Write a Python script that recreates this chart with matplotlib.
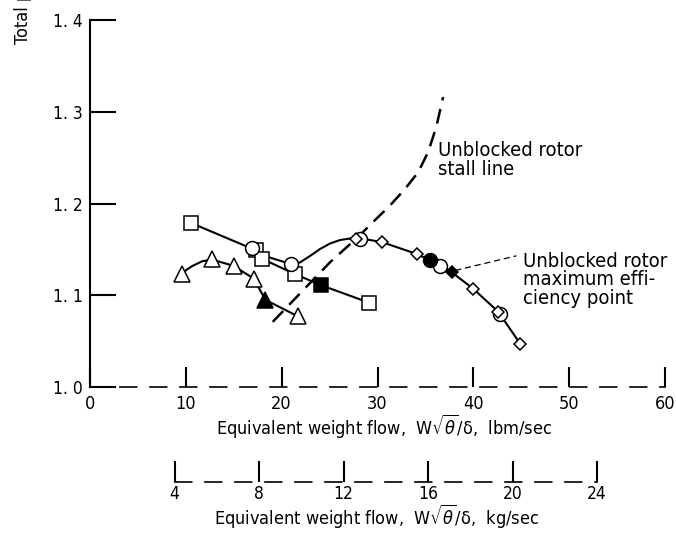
import matplotlib
matplotlib.use("Agg")
import matplotlib.pyplot as plt

plt.rcParams["font.family"] = ["DejaVu Sans"]
plt.rcParams["font.stretch"] = "condensed"
plt.rcParams["mathtext.fontset"] = "dejavusans"

LBM_PER_KG = 2.2046

# --- data (flow in lbm/sec, total pressure ratio) ---
tri_line_x = [9.6, 10.1, 10.7, 11.7, 12.7, 15.0, 17.1, 18.3, 21.7]
tri_line_y = [1.123, 1.128, 1.132, 1.137, 1.139, 1.132, 1.118, 1.095, 1.077]
tri_open_x = [9.6, 12.7, 15.0, 17.1, 21.7]
tri_open_y = [1.123, 1.139, 1.132, 1.118, 1.077]
tri_fill_x = [18.3]
tri_fill_y = [1.095]

sq_line_x = [10.5, 17.3, 17.9, 21.4, 24.1, 29.1]
sq_line_y = [1.179, 1.149, 1.140, 1.123, 1.111, 1.092]
sq_open_x = [10.5, 17.3, 17.9, 21.4, 29.1]
sq_open_y = [1.179, 1.149, 1.140, 1.123, 1.092]
sq_fill_x = [24.1]
sq_fill_y = [1.111]

circ_line_x = [16.9, 18.8, 20.95, 21.9, 22.96, 24.0, 25.05, 26.1, 27.14, 27.97,
               30.45, 32.4, 34.1, 35.5, 36.5, 37.75, 40.0, 42.6, 44.9]
circ_line_y = [1.152, 1.141, 1.134, 1.1357, 1.1428, 1.1504, 1.1564, 1.1602, 1.1619, 1.1624,
               1.158, 1.151, 1.145, 1.138, 1.132, 1.125, 1.107, 1.082, 1.047]
circ_open_x = [16.9, 20.95, 28.2, 36.5, 42.8]
circ_open_y = [1.152, 1.134, 1.161, 1.132, 1.080]
circ_fill_x = [35.5]
circ_fill_y = [1.138]
diam_open_x = [27.8, 30.45, 34.1, 40.0, 42.6, 44.9]
diam_open_y = [1.161, 1.158, 1.145, 1.107, 1.082, 1.047]
diam_fill_x = [37.75]
diam_fill_y = [1.125]

stall_x = [19.07, 25.05, 27.97, 29.75, 31.32, 32.88, 34.24, 35.28, 36.12, 36.85]
stall_y = [1.071, 1.136, 1.1635, 1.182, 1.198, 1.216, 1.234, 1.256, 1.283, 1.316]

leader_x = [38.1, 44.5]
leader_y = [1.127, 1.143]

lbm_ticks = [0, 10, 20, 30, 40, 50, 60]
kg_ticks = [4, 8, 12, 16, 20, 24]
pr_ticks = [1.0, 1.1, 1.2, 1.3, 1.4]

fig = plt.figure(figsize=(6.76, 5.36), dpi=100)
ax = fig.add_axes([90 / 676, 149 / 536, 575 / 676, 367 / 536])
ax.set_xlim(0, 60)
ax.set_ylim(1.0, 1.4)

# curves
ax.plot(tri_line_x, tri_line_y, color="black", lw=1.5, zorder=2)
ax.plot(sq_line_x, sq_line_y, color="black", lw=1.5, zorder=2)
ax.plot(circ_line_x, circ_line_y, color="black", lw=1.5, zorder=2)
ax.plot(stall_x, stall_y, color="black", lw=1.8, linestyle=(0, (6, 3.5)), zorder=2)
ax.plot(leader_x, leader_y, color="black", lw=0.9, linestyle=(0, (5, 3)), zorder=2)

mk = dict(linestyle="none", markeredgecolor="black", markeredgewidth=1.1, zorder=3)
ax.plot(tri_open_x, tri_open_y, marker="^", markersize=11, markerfacecolor="white", **mk)
ax.plot(tri_fill_x, tri_fill_y, marker="^", markersize=11, markerfacecolor="black", **mk)
ax.plot(sq_open_x, sq_open_y, marker="s", markersize=9.5, markerfacecolor="white", **mk)
ax.plot(sq_fill_x, sq_fill_y, marker="s", markersize=9.5, markerfacecolor="black", **mk)
ax.plot(circ_open_x, circ_open_y, marker="o", markersize=10, markerfacecolor="white", **mk)
ax.plot(circ_fill_x, circ_fill_y, marker="o", markersize=10, markerfacecolor="black", **mk)
ax.plot(diam_open_x, diam_open_y, marker="D", markersize=6.5, markerfacecolor="white", **mk)
ax.plot(diam_fill_x, diam_fill_y, marker="D", markersize=6.5, markerfacecolor="black", **mk)

ax.text(36.3, 1.268, "Unblocked rotor\nstall line", fontsize=14.5, va="top", ha="left",
        linespacing=1.0)
ax.text(45.2, 1.147, "Unblocked rotor\nmaximum effi-\nciency point", fontsize=14.5,
        va="top", ha="left", linespacing=0.95)

# axes styling
for side in ("top", "right"):
    ax.spines[side].set_visible(False)
ax.spines["left"].set_linewidth(1.5)
ax.spines["bottom"].set_linewidth(1.2)
ax.spines["bottom"].set_linestyle((0, (10, 8)))
ax.set_xticks(lbm_ticks)
ax.set_yticks(pr_ticks)
ax.set_yticklabels(["1. 0", "1. 1", "1. 2", "1. 3", "1. 4"])
ax.tick_params(axis="x", direction="in", length=14.4, width=1.5, pad=6, labelsize=13)
ax.tick_params(axis="y", direction="in", length=18.7, width=1.5, pad=5, labelsize=12.5)

fig.text(384 / 676, (536 - 435) / 536, r"Equivalent weight flow,  W$\sqrt{\theta}$/δ,  lbm/sec",
         ha="center", va="baseline", fontsize=13)

# secondary flow scale in kg/sec
ax2 = fig.add_axes([90 / 676, (536 - 482) / 536, 575 / 676, 0.001])
ax2.set_xlim(0, 60 / LBM_PER_KG)
ax2.set_yticks([])
for side in ("top", "right", "left"):
    ax2.spines[side].set_visible(False)
ax2.spines["bottom"].set_bounds(kg_ticks[0], kg_ticks[-1])
ax2.spines["bottom"].set_linewidth(1.2)
ax2.spines["bottom"].set_linestyle((0, (10, 8)))
ax2.patch.set_visible(False)
ax2.set_xticks(kg_ticks)
ax2.tick_params(axis="x", direction="in", length=15, width=1.5, pad=2.5, labelsize=12.5)

fig.text(377 / 676, (536 - 525) / 536, r"Equivalent weight flow,  W$\sqrt{\theta}$/δ,  kg/sec",
         ha="center", va="baseline", fontsize=13)

fig.text(23 / 676, 1 - 44 / 536, "Total pressure ratio", rotation=90, ha="center",
         va="bottom", fontsize=13)

fig.savefig("out.png", dpi=100)
